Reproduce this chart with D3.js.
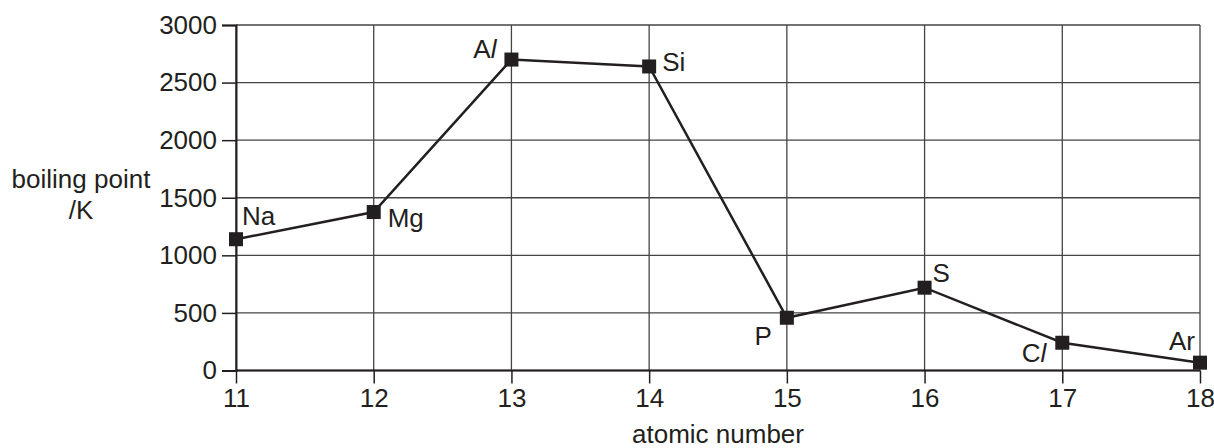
<!DOCTYPE html>
<html>
<head>
<meta charset="utf-8">
<script src="https://cdn.jsdelivr.net/npm/d3@7"></script>
<style>
  body { margin: 0; background: #fff; }
  svg text { font-family: "Liberation Sans", Arial, sans-serif; fill: #231f20; }
</style>
</head>
<body>
<div id="chart"></div>
<script>
// data
const atomicNumbers = [11, 12, 13, 14, 15, 16, 17, 18];
const boilingPoints = [1140, 1376, 2700, 2640, 458, 719, 241, 68];
const symbols = ["Na", "Mg", "Al", "Si", "P", "S", "Cl", "Ar"];
const yTicks = [0, 500, 1000, 1500, 2000, 2500, 3000];

const width = 1214, height = 448;
const margin = { left: 236, right: 14, top: 25, bottom: 77.5 };
const ink = "#231f20";
const fontSize = 26;

const svg = d3.select("#chart").append("svg")
  .attr("width", width)
  .attr("height", height);

const x = d3.scaleLinear()
  .domain([11, 18])
  .range([margin.left, width - margin.right]);

const y = d3.scaleLinear()
  .domain([0, 3000])
  .range([height - margin.bottom, margin.top]);

// grid
const grid = svg.append("g");
grid.selectAll(".h").data(yTicks).enter().append("line")
  .attr("x1", x(11)).attr("x2", x(18))
  .attr("y1", d => y(d)).attr("y2", d => y(d))
  .attr("stroke", "#444").attr("stroke-width", 1.3);
grid.selectAll(".v").data(atomicNumbers).enter().append("line")
  .attr("x1", d => x(d)).attr("x2", d => x(d))
  .attr("y1", y(0)).attr("y2", y(3000))
  .attr("stroke", "#444").attr("stroke-width", 1.3);

// axes
const yAxis = svg.append("g")
  .attr("transform", `translate(${x(11)},0)`)
  .call(d3.axisLeft(y).tickValues(yTicks).tickSize(14).tickPadding(5).tickFormat(d3.format("d")));
const xAxis = svg.append("g")
  .attr("transform", `translate(0,${y(0)})`)
  .call(d3.axisBottom(x).tickValues(atomicNumbers).tickSize(13).tickPadding(5).tickFormat(d3.format("d")));

[yAxis, xAxis].forEach(a => {
  a.select(".domain").attr("stroke", ink).attr("stroke-width", 2);
  a.selectAll(".tick line").attr("stroke", ink).attr("stroke-width", 1.5);
  a.selectAll(".tick text")
    .attr("font-size", fontSize)
    .attr("font-family", "'Liberation Sans', Arial, sans-serif")
    .attr("fill", ink);
});
xAxis.select(".domain").remove();
xAxis.append("line")
  .attr("x1", x(11)).attr("x2", x(18))
  .attr("stroke", ink).attr("stroke-width", 2);

// axis titles
svg.append("text")
  .attr("x", 81).attr("y", 188)
  .attr("text-anchor", "middle")
  .attr("font-size", fontSize)
  .text("boiling point");
svg.append("text")
  .attr("x", 81).attr("y", 219)
  .attr("text-anchor", "middle")
  .attr("font-size", fontSize)
  .text("/K");
svg.append("text")
  .attr("x", (x(11) + x(18)) / 2).attr("y", 443)
  .attr("text-anchor", "middle")
  .attr("font-size", fontSize)
  .text("atomic number");

// line
const pts = atomicNumbers.map((n, i) => [n, boilingPoints[i], symbols[i]]);
svg.append("path")
  .datum(pts)
  .attr("fill", "none")
  .attr("stroke", ink)
  .attr("stroke-width", 2.5)
  .attr("d", d3.line().x(d => x(d[0])).y(d => y(d[1])));

// markers
const ms = 14;
svg.selectAll(".marker").data(pts).enter().append("rect")
  .attr("x", d => x(d[0]) - ms / 2)
  .attr("y", d => y(d[1]) - ms / 2)
  .attr("width", ms).attr("height", ms)
  .attr("fill", ink);

// labels: offset from marker, anchor
const labelPos = {
  Na: [6, -14, "start"],
  Mg: [14, 15, "start"],
  Al: [-15, -2, "end"],
  Si: [13, 5, "start"],
  P: [-15, 27, "end"],
  S: [8, -6, "start"],
  Cl: [-16, 19, "end"],
  Ar: [-5, -13, "end"]
};

svg.selectAll(".lbl").data(pts).enter().append("text")
  .attr("x", d => x(d[0]) + labelPos[d[2]][0])
  .attr("y", d => y(d[1]) + labelPos[d[2]][1])
  .attr("text-anchor", d => labelPos[d[2]][2])
  .attr("font-size", fontSize)
  .each(function(d) {
    const t = d3.select(this);
    if (d[2].endsWith("l")) {
      t.append("tspan").text(d[2].slice(0, -1));
      t.append("tspan").attr("font-style", "italic").text("l");
    } else {
      t.text(d[2]);
    }
  });
</script>
</body>
</html>
